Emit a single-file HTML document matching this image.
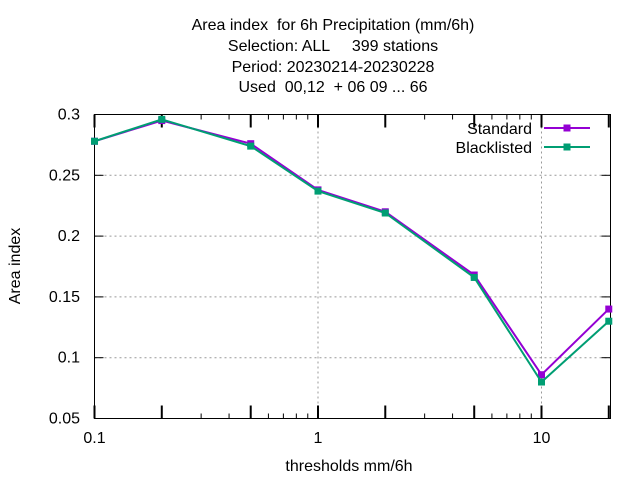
<!DOCTYPE html>
<html><head><meta charset="utf-8"><style>
body{margin:0;background:#fff}
svg text{font-family:"Liberation Sans",sans-serif;font-size:16px;fill:#000;white-space:pre}
</style></head><body>
<svg id="chart" width="640" height="480" viewBox="0 0 640 480" xmlns="http://www.w3.org/2000/svg" xml:space="preserve">
<g text-anchor="middle">
<text x="333" y="30">Area index  for 6h Precipitation (mm/6h)</text>
<text x="333" y="51">Selection: ALL     399 stations</text>
<text x="333" y="72">Period: 20230214-20230228</text>
<text x="333" y="92">Used  00,12  + 06 09 ... 66</text>
</g>
<g id="grid"></g>
<g id="ticks"></g>
<rect x="94.5" y="114.5" width="516" height="304" fill="none" stroke="#000" stroke-width="1"/>
<g id="series"></g>
<text x="349" y="471" text-anchor="middle">thresholds mm/6h</text>
<text x="0" y="0" text-anchor="middle" transform="translate(20,266) rotate(-90)">Area index</text>
<g>
<text x="532" y="134" text-anchor="end">Standard</text>
<text x="532" y="153" text-anchor="end">Blacklisted</text>
</g>
</svg>
<script>
const thresholds=[0.1,0.2,0.5,1,2,5,10,20];
const standard=[0.278,0.295,0.276,0.238,0.220,0.168,0.086,0.140];
const blacklisted=[0.278,0.296,0.274,0.237,0.219,0.166,0.080,0.130];
const yTicks=[0.05,0.1,0.15,0.2,0.25,0.3];
const yTickLabels=["0.05","0.1","0.15","0.2","0.25","0.3"];
const xLabelTicks=[0.1,1,10];
const xLabels=["0.1","1","10"];
const xMajor=[0.1,0.2,0.5,1,2,5,10,20];
const xMinor=[0.3,0.4,0.6,0.7,0.8,0.9,3,4,6,7,8,9];
const NS="http://www.w3.org/2000/svg";
const X0=94.5,X1=610.5,Y0=418.5,Y1=114.5;
const xs=v=>X0+(Math.log10(v)-Math.log10(0.1))*223.5;
const ys=v=>Y0-(v-0.05)/(0.3-0.05)*(Y0-Y1);
function mk(tag,attrs,parent){const e=document.createElementNS(NS,tag);for(const k in attrs)e.setAttribute(k,attrs[k]);parent.appendChild(e);return e;}
const grid=document.getElementById('grid'),ticks=document.getElementById('ticks'),series=document.getElementById('series');
yTicks.forEach((v,i)=>{
  const y=ys(v);
  if(i>0&&i<yTicks.length-1){const g=mk('line',{x1:X0,x2:X1,y1:y,y2:y,stroke:'#999','stroke-dasharray':'2,3'},grid);
  
  }
  mk('line',{x1:X0,x2:X0+9,y1:y,y2:y,stroke:'#000'},ticks);
  mk('line',{x1:X1,x2:X1-9,y1:y,y2:y,stroke:'#000'},ticks);
  const t=mk('text',{x:80,y:y+5,'text-anchor':'end'},ticks);t.textContent=yTickLabels[i];
  
  
});
xLabelTicks.forEach((v,i)=>{
  const x=xs(v);
  if(i>0){const g=mk('line',{x1:x,x2:x,y1:Y0,y2:Y1,stroke:'#999','stroke-dasharray':'2,3'},grid);
  
  }
  const t=mk('text',{x:x,y:443,'text-anchor':'middle'},ticks);t.textContent=xLabels[i];
  
  
});
xMajor.forEach(v=>{const x=xs(v);
  mk('line',{x1:x,x2:x,y1:Y0,y2:Y0-13,stroke:'#000','stroke-width':2},ticks);
  mk('line',{x1:x,x2:x,y1:Y1,y2:Y1+13,stroke:'#000','stroke-width':2},ticks);});
xMinor.forEach(v=>{const x=xs(v);
  mk('line',{x1:x,x2:x,y1:Y0,y2:Y0-5,stroke:'#000'},ticks);
  mk('line',{x1:x,x2:x,y1:Y1,y2:Y1+5,stroke:'#000'},ticks);});
function drawSeries(vals,color,name){
  const g=mk('g',{},series);
  
  
  const pts=vals.map((v,i)=>xs(thresholds[i])+','+ys(v)).join(' ');
  mk('polyline',{points:pts,fill:'none',stroke:color,'stroke-width':2},g);
  vals.forEach((v,i)=>{const p=mk('rect',{x:xs(thresholds[i])-3.5,y:ys(v)-3.5,width:7,height:7,fill:color},g);
    
    });
}
drawSeries(standard,'#9400d3','series-standard');
drawSeries(blacklisted,'#009e73','series-blacklisted');
[['#9400d3',128,'legend-swatch-standard'],['#009e73',147,'legend-swatch-blacklisted']].forEach(([c,y,n])=>{
  const g=mk('g',{},series);
  
  
  mk('line',{x1:544,x2:590,y1:y,y2:y,stroke:c,'stroke-width':2},g);
  mk('rect',{x:563.5,y:y-3.5,width:7,height:7,fill:c},g);
});
</script>
</body></html>
